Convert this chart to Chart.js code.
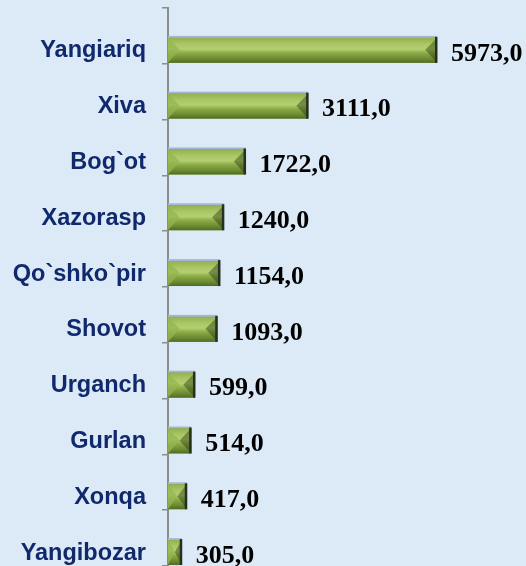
<!DOCTYPE html>
<html>
<head>
<meta charset="utf-8">
<script src="https://cdn.jsdelivr.net/npm/chart.js@4.4.1/dist/chart.umd.min.js"></script>
<style>
  html, body { margin: 0; padding: 0; }
  body { background: #dce9f6; }
  #wrap { position: relative; width: 526px; height: 566px; }
</style>
</head>
<body>
<div id="wrap"><canvas id="myChart"></canvas></div>
<script>
  "use strict";

  const districts = ["Yangiariq", "Xiva", "Bog`ot", "Xazorasp", "Qo`shko`pir",
    "Shovot", "Urganch", "Gurlan", "Xonqa", "Yangibozar"];
  const amounts = [5973, 3111, 1722, 1240, 1154, 1093, 599, 514, 417, 305];
  // empty slot: keeps each bar sitting on the lower half of its band, like the 3D original
  const spacer = districts.map(function () { return null; });
  const axisMax = 7950;

  const bevelBars = {
    id: "bevelBars",
    afterDatasetsDraw: function (chart) {
      const ctx = chart.ctx;
      const meta = chart.getDatasetMeta(1);
      meta.data.forEach(function (el) {
        const x0 = el.base, x1 = el.x;
        const h = el.height, yT = el.y - h / 2, yB = el.y + h / 2;
        const w = x1 - x0;
        if (w <= 0) return;
        ctx.save();
        ctx.fillStyle = "#a7b6d6";
        ctx.fillRect(x0, yT - 1, w, 2);
        const g = ctx.createLinearGradient(0, yT + 1, 0, yB);
        g.addColorStop(0, "#93b14e");
        g.addColorStop(0.25, "#aac666");
        g.addColorStop(0.45, "#b4cf70");
        g.addColorStop(0.6, "#8eac48");
        g.addColorStop(0.85, "#6a8830");
        g.addColorStop(1, "#506b24");
        ctx.fillStyle = g;
        ctx.fillRect(x0, yT + 1, w, h - 1);
        const b = Math.min(h * 0.45, w / 2);
        ctx.fillStyle = "rgba(150, 180, 80, 0.75)";
        ctx.beginPath();
        ctx.moveTo(x0, yT + 1);
        ctx.lineTo(x0 + b, el.y);
        ctx.lineTo(x0, yB);
        ctx.closePath();
        ctx.fill();
        ctx.fillStyle = "rgba(40, 60, 15, 0.45)";
        ctx.beginPath();
        ctx.moveTo(x1, yT + 1);
        ctx.lineTo(x1 - b, el.y);
        ctx.lineTo(x1, yB);
        ctx.closePath();
        ctx.fill();
        ctx.fillStyle = "#27301f";
        ctx.fillRect(x1 - 2, yT, 2.5, h);
        ctx.restore();
      });
    }
  };

  const valueLabels = {
    id: "valueLabels",
    afterDatasetsDraw: function (chart) {
      const ctx = chart.ctx;
      const meta = chart.getDatasetMeta(1);
      ctx.save();
      ctx.font = "bold 26px 'Liberation Serif', 'Times New Roman', serif";
      ctx.fillStyle = "#000000";
      ctx.textAlign = "left";
      ctx.textBaseline = "middle";
      meta.data.forEach(function (el, i) {
        const txt = amounts[i].toFixed(1).replace(".", ",");
        ctx.fillText(txt, el.x + 14, el.y + 4);
      });
      ctx.restore();
    }
  };

  const canvas = document.getElementById("myChart");
  new Chart(canvas.getContext("2d"), {
    type: "bar",
    data: {
      labels: districts,
      datasets: [
        { label: "spacer", data: spacer, backgroundColor: "rgba(0,0,0,0)" },
        {
          label: "amount",
          data: amounts,
          backgroundColor: "#7d9b3a",
          borderWidth: 0
        }
      ]
    },
    options: {
      indexAxis: "y",
      responsive: true,
      maintainAspectRatio: false,
      animation: false,
      categoryPercentage: 1,
      barPercentage: 0.93,
      layout: { padding: { top: 8, left: 0, right: 0, bottom: 0 } },
      plugins: {
        legend: { display: false },
        tooltip: { enabled: false }
      },
      scales: {
        x: { type: "linear", min: 0, max: axisMax, display: false },
        y: {
          type: "category",
          offset: true,
          grid: {
            display: true,
            drawOnChartArea: false,
            offset: true,
            tickLength: 6,
            color: "#8c8c8c",
            lineWidth: 1.5
          },
          border: { display: true, color: "#8c8c8c", width: 2 },
          ticks: {
            color: "#10286c",
            font: { family: "'Liberation Sans', Arial, sans-serif", size: 23.5, weight: "bold" },
            padding: 16,
            labelOffset: 15,
            autoSkip: false
          },
          afterFit: function (scale) {
            scale.width = 168;
            scale.paddingTop = 0;
            scale.paddingBottom = 0;
          }
        }
      }
    },
    plugins: [bevelBars, valueLabels]
  });
</script>
</body>
</html>
